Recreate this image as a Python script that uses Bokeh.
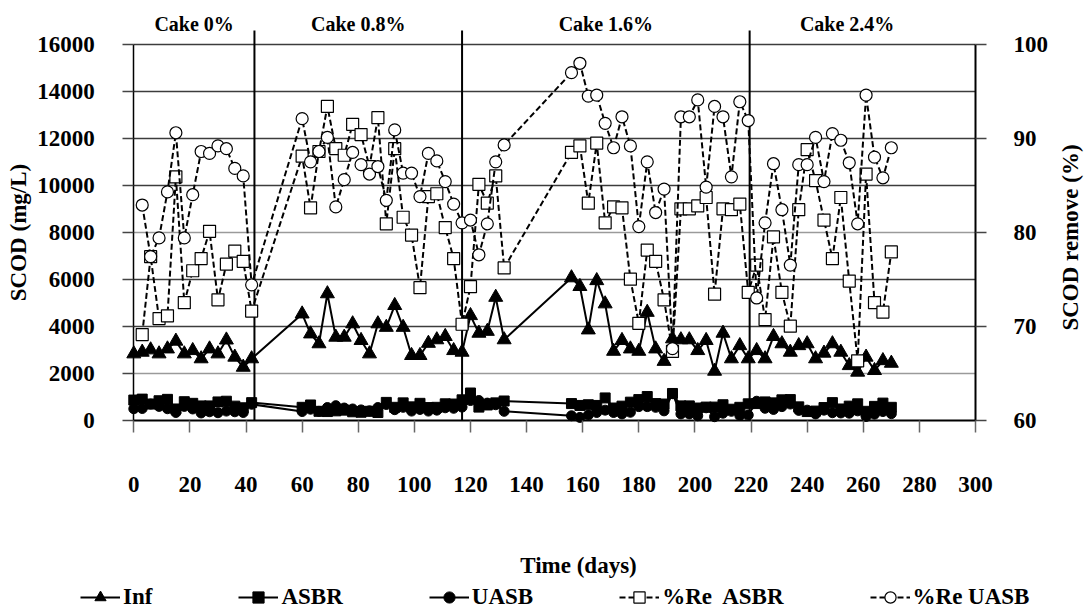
import math

from bokeh.plotting import figure
from bokeh.models import (Range1d, LinearAxis, FixedTicker, Grid, Legend,
                          LegendItem, Label)
from bokeh.core.properties import value
from bokeh.embed import file_html
from bokeh.resources import INLINE

# ---------------------------------------------------------------- data
# sampling days (influent / effluent)
day = [0, 3, 6, 9, 12, 15, 18, 21, 24, 27, 30, 33, 36, 39, 42,
       60, 63, 66, 69, 72, 75, 78, 81, 84, 87, 90, 93, 96, 99, 102, 105, 108, 111, 114, 117,
       120, 123, 126, 129, 132,
       156, 159, 162, 165, 168, 171, 174, 177, 180, 183, 186, 189, 192, 195, 198, 201, 204,
       207, 210, 213, 216, 219,
       222, 225, 228, 231, 234, 237, 240, 243, 246, 249, 252, 255, 258, 261, 264, 267, 270]

# SCOD (mg/L)
inf_scod = [2820, 2890, 2990, 2820, 3030, 3360, 2820, 2960, 2610, 3030, 2820, 3410, 2680, 2250, 2610,
            4520, 3670, 3250, 5380, 3530, 3530, 4100, 3390, 2820, 4100, 3950, 4880, 3950, 2750, 2750,
            3270, 3420, 3560, 2960, 2890,
            4450, 3700, 3780, 5230, 3420,
            6060, 5690, 3840, 5940, 4950, 2930, 3390, 3030, 2930, 4590, 3030, 2500, 3460, 3420, 3420,
            2960, 3390, 2080, 3700, 2610, 3170, 2610,
            2960, 2610, 3560, 3250, 2890, 3170, 3250, 2610, 2850, 3250, 2890, 2320, 2040, 2680, 2110,
            2530, 2420]

asbr_scod = [850, 890, 680, 820, 880, 470, 780, 710, 600, 600, 770, 800, 590, 520, 740,
             540, 640, 370, 360, 390, 420, 350, 330, 370, 320, 750, 540, 730, 560, 710, 530, 540,
             690, 680, 860,
             1150, 550, 640, 730, 810,
             700, 620, 650, 620, 940, 510, 590, 760, 870, 1000, 700, 680, 1130, 600, 600, 510, 550,
             550, 650, 460, 540, 690,
             700, 770, 730, 860, 870, 560, 360, 380, 530, 740, 470, 590, 690, 370, 580, 720, 540]

uasb_scod = [480, 490, 680, 580, 480, 320, 580, 470, 300, 350, 310, 380, 350, 320, 670,
             360, 460, 370, 530, 610, 510, 470, 430, 390, 530, 660, 440, 540, 380, 450, 380, 420,
             520, 500, 550,
             830, 830, 720, 650, 370,
             180, 110, 210, 320, 420, 320, 260, 330, 570, 570, 540, 390, 1120, 260, 260, 180, 520,
             140, 290, 370, 190, 210,
             800, 500, 450, 570, 680, 410, 420, 260, 420, 310, 300, 290, 390, 150, 250, 360, 270]

# removal-efficiency sampling days
re_day = [3, 6, 9, 12, 15, 18, 21, 24, 27, 30, 33, 36, 39, 42,
          60, 63, 66, 69, 72, 75, 78, 81, 84, 87, 90, 93, 96, 99, 102, 105, 108, 111, 114, 117,
          120, 123, 126, 129, 132,
          156, 159, 162, 165, 168, 171, 174, 177, 180, 183, 186, 189, 192, 195, 198, 201, 204,
          207, 210, 213, 216, 219,
          222, 225, 228, 231, 234, 237, 240, 243, 246, 249, 252, 255, 258, 261, 264, 267, 270]

# SCOD removal (%)
re_asbr = [69.1, 77.4, 70.8, 71.1, 85.9, 72.5, 75.9, 77.2, 80.1, 72.8, 76.6, 78.0, 76.9, 71.6,
           88.1, 82.6, 88.6, 93.4, 88.9, 88.2, 91.5, 90.4, 87.0, 92.2, 80.9, 88.9, 81.6, 79.7,
           74.1, 83.8, 84.1, 80.5, 77.2, 70.2,
           74.2, 85.1, 83.1, 86.0, 76.2,
           88.5, 89.2, 83.1, 89.5, 81.0, 82.7, 82.6, 75.0, 70.3, 78.1, 76.9, 72.8, 67.3, 82.5,
           82.5, 82.8, 83.7, 73.4, 82.5, 82.4, 83.0, 73.6,
           76.5, 70.7, 79.5, 73.6, 70.0, 82.4, 88.8, 85.5, 81.3, 77.2, 83.7, 74.8, 66.3, 86.2,
           72.5, 71.5, 77.9]

re_uasb = [82.9, 77.4, 79.4, 84.3, 90.6, 79.4, 84.0, 88.6, 88.4, 89.2, 88.9, 86.8, 86.0, 74.4,
           92.1, 87.5, 88.6, 90.1, 82.7, 85.6, 88.5, 87.2, 86.2, 87.0, 83.4, 90.9, 86.3, 86.3,
           83.8, 88.4, 87.6, 85.4, 83.0, 81.0,
           81.3, 77.6, 80.9, 87.5, 89.3,
           97.0, 98.0, 94.5, 94.6, 91.6, 89.0, 92.3, 89.2, 80.6, 87.5, 82.1, 84.6, 67.6, 92.3,
           92.3, 94.1, 84.8, 93.4, 92.3, 85.9, 93.9, 91.9,
           73.0, 81.0, 87.3, 82.4, 76.5, 87.2, 87.2, 90.1, 85.4, 90.5, 89.8, 87.4, 80.9, 94.6,
           88.0, 85.8, 89.0]

# cake-dosage phases
phase_names = ["Cake 0%", "Cake 0.8%", "Cake 1.6%", "Cake 2.4%"]
phase_edges = [0, 43, 117, 219.5, 289]

x_ticks = list(range(0, 301, 20))
y_ticks = list(range(0, 16001, 2000))
pct_ticks = [60, 70, 80, 90, 100]

# ---------------------------------------------------------------- layout
W, H = 1085, 611
FONT = "Liberation Serif"
TICK_PX = "23px"
TITLE_PX = "23px"

# the frame covers the whole canvas; the axes are pinned inside it
AX_L, AX_R = 133.3, 975.0          # x = 0 and x = 300
AX_T, AX_B = 44.0, 419.5           # y = 16000 and y = 0
X_MAX, Y_MAX = 300.0, 16000.0
kx = (AX_R - AX_L) / X_MAX
ky = (AX_B - AX_T) / Y_MAX
kp = (AX_B - AX_T) / 40.0

x_lo, x_hi = -AX_L / kx, X_MAX + (W - AX_R) / kx
y_lo, y_hi = -(H - AX_B) / ky, Y_MAX + AX_T / ky
p_lo, p_hi = 60 - (H - AX_B) / kp, 100 + AX_T / kp

DIVIDER_TOP = Y_MAX + 14 / ky
LABEL_Y = Y_MAX + 21 / ky

p = figure(width=W, height=H,
           x_range=Range1d(x_lo, x_hi), y_range=Range1d(y_lo, y_hi),
           output_backend="svg", toolbar_location=None,
           min_border=0, min_border_left=0, min_border_right=0,
           min_border_top=0, min_border_bottom=0)
p.outline_line_color = None
p.background_fill_color = "white"
p.border_fill_color = "white"
p.extra_y_ranges = {"pct": Range1d(p_lo, p_hi)}


def style_axis(ax):
    ax.major_label_text_font = FONT
    ax.major_label_text_font_style = "bold"
    ax.major_label_text_font_size = TICK_PX
    ax.major_label_text_color = "black"
    ax.axis_label_text_font = FONT
    ax.axis_label_text_font_style = "bold"
    ax.axis_label_text_font_size = TITLE_PX
    ax.axis_label_text_color = "black"
    ax.minor_tick_line_color = None
    ax.major_tick_in = 0
    ax.axis_line_color = "black"


def title_label(text, x, y, angle=0.0):
    p.add_layout(Label(x=x, y=H - y, x_units="screen", y_units="screen",
                       text=text, angle=angle,
                       text_font=FONT, text_font_style="bold", text_font_size=TITLE_PX,
                       text_align="center", text_baseline="middle", text_color="black"))


# left axis
yl = p.yaxis[0]
style_axis(yl)
yl.fixed_location = 0
yl.ticker = FixedTicker(ticks=y_ticks)
yl.bounds = (0, Y_MAX)
yl.axis_label = "SCOD (mg/L)"
yl.major_tick_out = 11
yl.major_tick_line_color = "#444444"
yl.major_tick_line_width = 1.5
yl.axis_line_width = 1.5
yl.major_label_standoff = 28
yl.axis_label_standoff = 3

# right axis (removal %)
yr = LinearAxis(y_range_name="pct")
style_axis(yr)
yr.fixed_location = X_MAX
yr.ticker = FixedTicker(ticks=pct_ticks)
yr.bounds = (60, 100)
yr.major_tick_out = 11
yr.major_tick_line_color = "#444444"
yr.major_tick_line_width = 1.5
yr.axis_line_width = 2
yr.major_label_standoff = 27
p.add_layout(yr, "right")

# bottom axis
xb = p.xaxis[0]
style_axis(xb)
xb.fixed_location = 0
xb.ticker = FixedTicker(ticks=x_ticks)
xb.bounds = (0, X_MAX)
xb.major_tick_out = 12
xb.major_tick_line_color = "#666666"
xb.major_tick_line_width = 1.5
xb.axis_line_width = 2
xb.major_label_standoff = 45

# axis titles drawn as labels
title_label("Time (days)", 578, 565)
title_label("SCOD remove (%)", 1070, 237, angle=math.pi / 2)

# horizontal grid, limited to the plotting area
p.xgrid.visible = False
p.ygrid.visible = False
HAS_CROSS = "cross_bounds" in Grid.properties()


def hgrid(ticks, color):
    if HAS_CROSS:
        p.add_layout(Grid(dimension=1, ticker=FixedTicker(ticks=ticks),
                          cross_bounds=(0, X_MAX),
                          grid_line_color=color, grid_line_width=1.3))
    else:
        p.segment(x0=[0] * len(ticks), x1=[X_MAX] * len(ticks), y0=ticks, y1=ticks,
                  line_color=color, line_width=1.3)


hgrid([4000, 6000, 10000, 12000, 14000, 16000], "#3c3c3c")
hgrid([2000, 8000], "#9a9a9a")

# phase dividers and names
bounds = phase_edges[1:-1]
p.segment(x0=bounds, y0=[0] * len(bounds), x1=bounds, y1=[DIVIDER_TOP] * len(bounds),
          line_color="black", line_width=2)
mids = [(a + b) / 2 for a, b in zip(phase_edges[:-1], phase_edges[1:])]
p.text(x=mids, y=[LABEL_Y] * len(mids), text=phase_names,
       text_font=value(FONT), text_font_style="bold", text_font_size="20px",
       text_align="center", text_baseline="middle", text_color="black")

# SCOD series
inf_l = p.line(day, inf_scod, line_color="black", line_width=2)
inf_m = p.scatter(day, inf_scod, marker="triangle", size=14, color="black")
asbr_l = p.line(day, asbr_scod, line_color="black", line_width=2)
asbr_m = p.scatter(day, asbr_scod, marker="square", size=10, color="black")
uasb_l = p.line(day, uasb_scod, line_color="black", line_width=2)
uasb_m = p.scatter(day, uasb_scod, marker="circle", size=10, color="black")

# removal series
rea_l = p.line(re_day, re_asbr, y_range_name="pct", line_color="black",
               line_width=2, line_dash="6 3")
rea_m = p.scatter(re_day, re_asbr, y_range_name="pct", marker="square", size=12,
                  fill_color="white", line_color="black", line_width=1.2)
reu_l = p.line(re_day, re_uasb, y_range_name="pct", line_color="black",
               line_width=2, line_dash="6 3")
reu_m = p.scatter(re_day, re_uasb, y_range_name="pct", marker="circle", size=12,
                  fill_color="white", line_color="black", line_width=1.2)

legend = Legend(items=[
    LegendItem(label="Inf", renderers=[inf_l, inf_m]),
    LegendItem(label="ASBR", renderers=[asbr_l, asbr_m]),
    LegendItem(label="UASB", renderers=[uasb_l, uasb_m]),
    LegendItem(label="%Re  ASBR", renderers=[rea_l, rea_m]),
    LegendItem(label="%Re UASB", renderers=[reu_l, reu_m]),
], orientation="horizontal", location=(80, 0))
legend.border_line_color = None
legend.background_fill_alpha = 0
legend.label_text_font = FONT
legend.label_text_font_style = "bold"
legend.label_text_font_size = TITLE_PX
legend.label_text_color = "black"
legend.glyph_width = 40
legend.glyph_height = 28
legend.label_standoff = 3
legend.spacing = 86
legend.padding = 0
legend.margin = 0
p.add_layout(legend)

open("out.html", "w").write(file_html(p, INLINE))
